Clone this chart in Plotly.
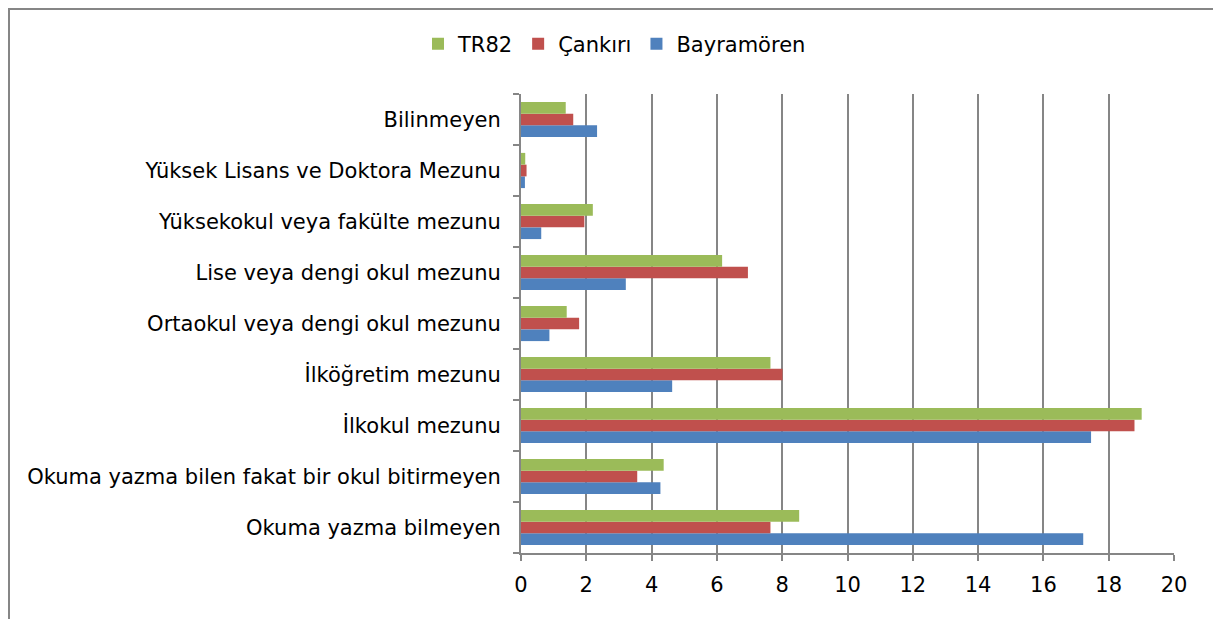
import plotly.graph_objects as go

categories = [
    "Okuma yazma bilmeyen",
    "Okuma yazma bilen fakat bir okul bitirmeyen",
    "İlkokul mezunu",
    "İlköğretim mezunu",
    "Ortaokul veya dengi okul mezunu",
    "Lise veya dengi okul mezunu",
    "Yüksekokul veya fakülte mezunu",
    "Yüksek Lisans ve Doktora Mezunu",
    "Bilinmeyen",
]
bayramoren = [17.22, 4.27, 17.46, 4.63, 0.87, 3.21, 0.62, 0.12, 2.33]
cankiri = [7.64, 3.56, 18.79, 8.01, 1.78, 6.95, 1.94, 0.17, 1.60]
tr82 = [8.52, 4.37, 19.01, 7.64, 1.40, 6.16, 2.20, 0.13, 1.37]
x_ticks = [0, 2, 4, 6, 8, 10, 12, 14, 16, 18, 20]

FONT = "Verdana, DejaVu Sans, sans-serif"
FS = 21

fig = go.Figure()
for name, vals, col in [("Bayramören", bayramoren, "#4F81BD"),
                        ("Çankırı", cankiri, "#C0504D"),
                        ("TR82", tr82, "#9BBB59")]:
    fig.add_trace(go.Bar(y=categories, x=vals, name=name, orientation="h",
                         marker=dict(color=col, line=dict(width=0))))

# page body has an 8px margin; work in page pixels minus 8
OFF = 8
W, H = 1221 - OFF, 619 - OFF
l, r, t, b = 521 - OFF, 47, 94 - OFF, 66
pw, ph = W - l - r, H - t - b

def fx(p):  # figure pixel -> paper x
    return (p - l) / pw

def fy(p):  # figure pixel -> paper y
    return 1 - (p - t) / ph

fig.update_layout(
    width=W, height=H,
    margin=dict(l=l, r=r, t=t, b=b, autoexpand=False),
    paper_bgcolor="white", plot_bgcolor="white",
    barmode="group", bargap=0.31, bargroupgap=0,
    font=dict(family=FONT, size=FS, color="black"),
    showlegend=True,
    legend=dict(orientation="h", traceorder="reversed", x=0.5, xref="container",
                xanchor="center", y=fy(44 - OFF), yanchor="middle",
                font=dict(family=FONT, size=FS), itemwidth=30,
                bgcolor="rgba(0,0,0,0)"),
    xaxis=dict(range=[0, 20], tickvals=x_ticks, showgrid=True,
               gridcolor="#868686", gridwidth=2, showline=True,
               linecolor="#868686", linewidth=2, ticks="outside",
               ticklen=6, tickcolor="#868686", tickwidth=2,
               ticklabelstandoff=6,
               zeroline=False, tickfont=dict(family=FONT, size=FS)),
    yaxis=dict(categoryorder="array", categoryarray=categories,
               showline=True, linecolor="#868686", linewidth=2,
               ticks="outside", tickson="boundaries", ticklen=6,
               tickcolor="#868686", tickwidth=2, showgrid=False,
               ticklabelstandoff=14,
               tickfont=dict(family=FONT, size=FS)),
    shapes=[dict(type="rect", xref="paper", yref="paper",
                 x0=fx(1), x1=fx(1210), y0=fy(H + 20), y1=fy(1),
                 line=dict(color="#868686", width=2), fillcolor="rgba(0,0,0,0)",
                 layer="below")],
)

fig.write_html("out.html")
